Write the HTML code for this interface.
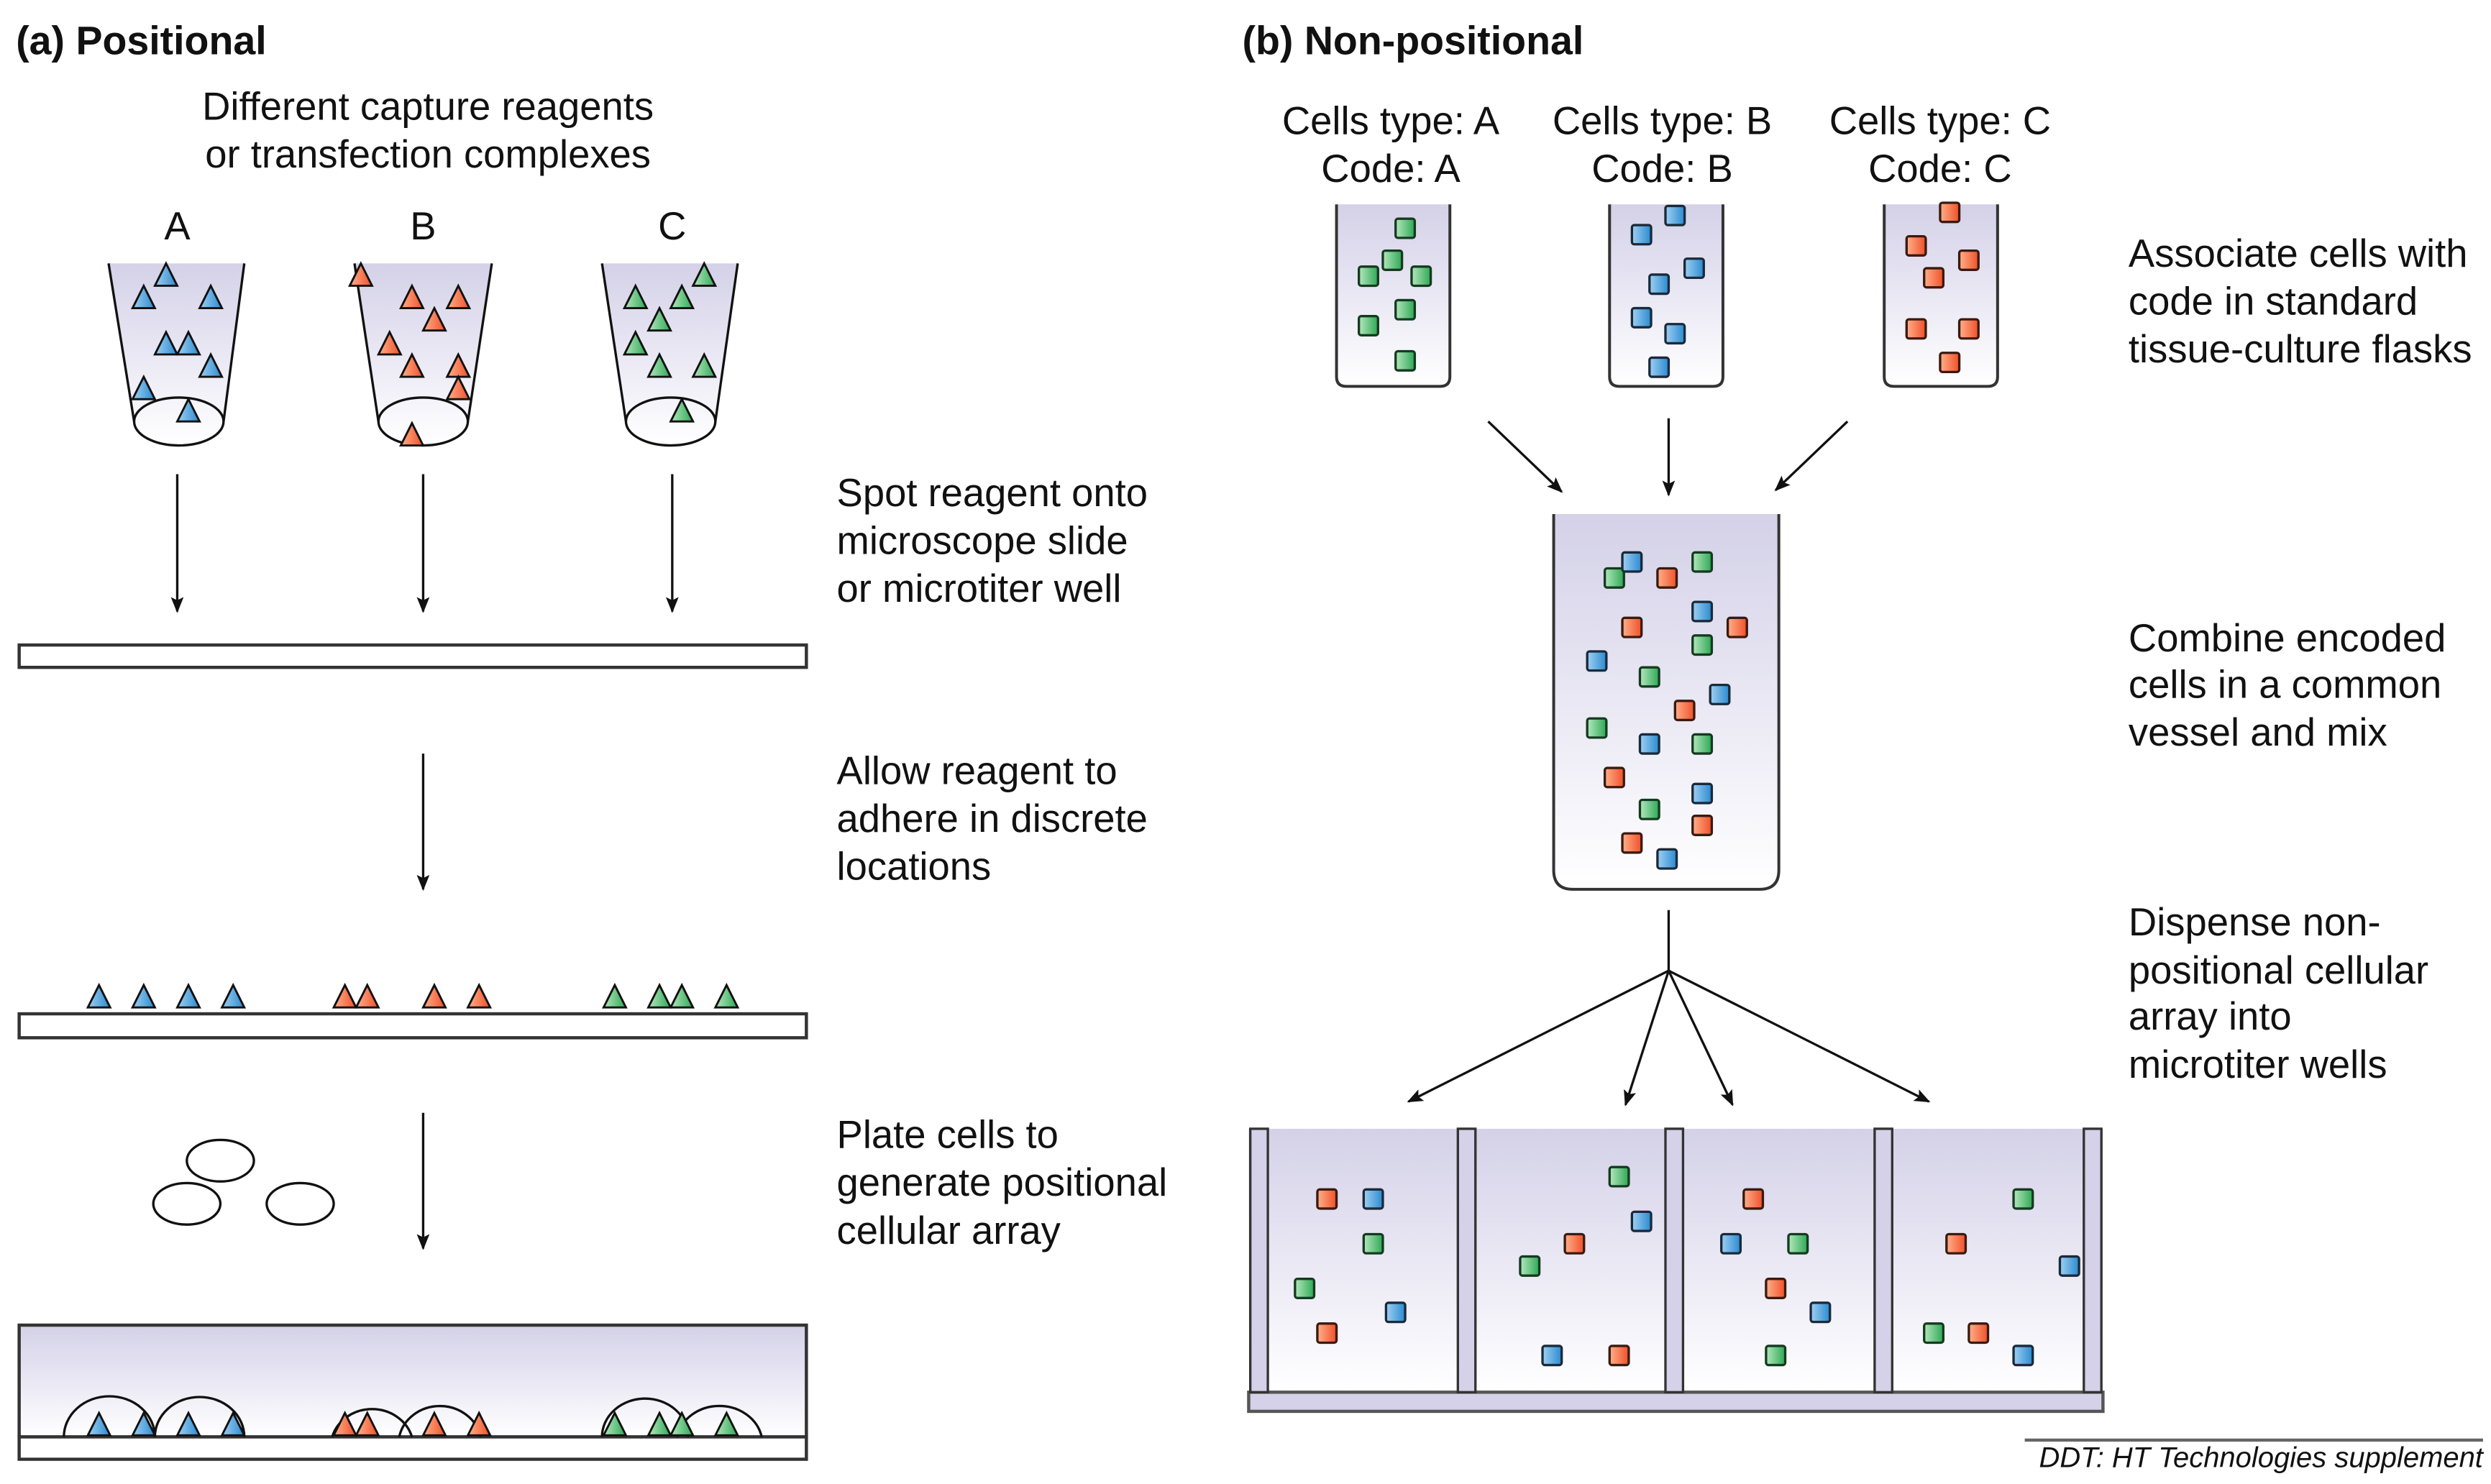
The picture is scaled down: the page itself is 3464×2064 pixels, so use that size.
<!DOCTYPE html>
<html><head><meta charset="utf-8"><style>
html,body{margin:0;padding:0;background:#fff}
svg{display:block}
text{font-family:"Liberation Sans",sans-serif;font-size:24.5px;fill:#111}
</style></head><body>
<svg width="3464" height="2064" viewBox="0 0 1560 929.5" preserveAspectRatio="none" xmlns="http://www.w3.org/2000/svg">
<defs>
<linearGradient id="lg" x1="0" y1="0" x2="0" y2="1"><stop offset="0" stop-color="#d4d1e8"/><stop offset="1" stop-color="#ffffff"/></linearGradient>
<linearGradient id="gb" x1="0" y1="0" x2="1" y2="0"><stop offset="0" stop-color="#9fd0f2"/><stop offset="1" stop-color="#2a8ad0"/></linearGradient>
<linearGradient id="go" x1="0" y1="0" x2="1" y2="0"><stop offset="0" stop-color="#ffb08a"/><stop offset="1" stop-color="#f0502a"/></linearGradient>
<linearGradient id="gg" x1="0" y1="0" x2="1" y2="0"><stop offset="0" stop-color="#b4e8bd"/><stop offset="1" stop-color="#2ea855"/></linearGradient>
<marker id="ah" markerWidth="10" markerHeight="10" refX="9" refY="5" orient="auto" markerUnits="userSpaceOnUse"><path d="M0,1 L10,5 L0,9 L2,5 Z" fill="#111"/></marker>
<rect id="sb" x="-6" y="-6" width="12" height="12" rx="1.5" fill="url(#gb)" stroke="#1a2a3a" stroke-width="1.5"/>
<rect id="so" x="-6" y="-6" width="12" height="12" rx="1.5" fill="url(#go)" stroke="#3a1a10" stroke-width="1.5"/>
<rect id="sg" x="-6" y="-6" width="12" height="12" rx="1.5" fill="url(#gg)" stroke="#153a20" stroke-width="1.5"/>
<path id="tb" d="M0,-7 L7,7 L-7,7 Z" fill="url(#gb)" stroke="#111" stroke-width="1.3"/>
<path id="to" d="M0,-7 L7,7 L-7,7 Z" fill="url(#go)" stroke="#111" stroke-width="1.3"/>
<path id="tg" d="M0,-7 L7,7 L-7,7 Z" fill="url(#gg)" stroke="#111" stroke-width="1.3"/>
</defs>

<!-- (a) -->
<text x="10" y="34" font-weight="bold" style="font-size:25px">(a) Positional</text>
<text x="268" y="75" text-anchor="middle">Different capture reagents</text>
<text x="268" y="105" text-anchor="middle">or transfection complexes</text>
<text x="111" y="150" text-anchor="middle">A</text>
<text x="265" y="150" text-anchor="middle">B</text>
<text x="421" y="150" text-anchor="middle">C</text>

<g stroke="#111" stroke-width="1.5" fill="url(#lg)">
<path d="M68,165 L153,165 L140,264 A28,15 0 0 1 84,264 Z" stroke="none"/>
<path d="M68,165 L84,264 M153,165 L140,264" fill="none"/>
<ellipse cx="112" cy="264" rx="28" ry="15" fill="none"/>
<path d="M222,165 L308,165 L293,264 A28,15 0 0 1 237,264 Z" stroke="none"/>
<path d="M222,165 L237,264 M308,165 L293,264" fill="none"/>
<ellipse cx="265" cy="264" rx="28" ry="15" fill="none"/>
<path d="M377,165 L462,165 L448,264 A28,15 0 0 1 392,264 Z" stroke="none"/>
<path d="M377,165 L392,264 M462,165 L448,264" fill="none"/>
<ellipse cx="420" cy="264" rx="28" ry="15" fill="none"/>
</g>
<g>
<use href="#tb" x="104" y="172"/><use href="#tb" x="90" y="186"/><use href="#tb" x="132" y="186"/><use href="#tb" x="104" y="215"/><use href="#tb" x="118" y="215"/><use href="#tb" x="132" y="229"/><use href="#tb" x="90" y="243"/><use href="#tb" x="118" y="257"/>
<use href="#to" x="226" y="172"/><use href="#to" x="258" y="186"/><use href="#to" x="287" y="186"/><use href="#to" x="272" y="200"/><use href="#to" x="244" y="215"/><use href="#to" x="258" y="229"/><use href="#to" x="287" y="229"/><use href="#to" x="287" y="243"/><use href="#to" x="258" y="272"/>
<use href="#tg" x="441" y="172"/><use href="#tg" x="398" y="186"/><use href="#tg" x="427" y="186"/><use href="#tg" x="413" y="200"/><use href="#tg" x="398" y="215"/><use href="#tg" x="413" y="229"/><use href="#tg" x="441" y="229"/><use href="#tg" x="427" y="257"/>
</g>

<g stroke="#111" stroke-width="1.5" marker-end="url(#ah)">
<line x1="111" y1="297" x2="111" y2="383"/>
<line x1="265" y1="297" x2="265" y2="383"/>
<line x1="421" y1="297" x2="421" y2="383"/>
<line x1="265" y1="472" x2="265" y2="557"/>
<line x1="265" y1="697" x2="265" y2="782"/>
</g>
<rect x="12" y="404" width="493" height="14" fill="#fff" stroke="#333" stroke-width="2"/>
<text x="524" y="317">Spot reagent onto</text>
<text x="524" y="347">microscope slide</text>
<text x="524" y="377">or microtiter well</text>
<text x="524" y="491">Allow reagent to</text>
<text x="524" y="521">adhere in discrete</text>
<text x="524" y="551">locations</text>

<rect x="12" y="635" width="493" height="15" fill="#fff" stroke="#333" stroke-width="2"/>
<g transform="translate(0,-10)">
<use href="#tb" x="62" y="634"/><use href="#tb" x="90" y="634"/><use href="#tb" x="118" y="634"/><use href="#tb" x="146" y="634"/>
<use href="#to" x="216" y="634"/><use href="#to" x="230" y="634"/><use href="#to" x="272" y="634"/><use href="#to" x="300" y="634"/>
<use href="#tg" x="385" y="634"/><use href="#tg" x="413" y="634"/><use href="#tg" x="427" y="634"/><use href="#tg" x="455" y="634"/>
</g>

<g fill="#fff" stroke="#111" stroke-width="1.5">
<ellipse cx="138" cy="727" rx="21" ry="13"/>
<ellipse cx="117" cy="754" rx="21" ry="13"/>
<ellipse cx="188" cy="754" rx="21" ry="13"/>
</g>
<text x="524" y="719">Plate cells to</text>
<text x="524" y="749">generate positional</text>
<text x="524" y="779">cellular array</text>

<rect x="12" y="830" width="493" height="70" fill="url(#lg)" stroke="#333" stroke-width="2"/>
<rect x="12" y="900" width="493" height="14" fill="#fff" stroke="#333" stroke-width="2"/>
<g fill="none" stroke="#111" stroke-width="1.5">
<path d="M40,900 A28,25 0 0 1 97,900"/><path d="M97,900 A28,25 0 0 1 153,900"/>
<path d="M208,900 A26,24 0 0 1 258,900"/><path d="M250,900 A26,24 0 0 1 301,900"/>
<path d="M377,900 A27,24 0 0 1 431,900"/><path d="M424,900 A27,24 0 0 1 477,900"/>
</g>
<g transform="translate(0,-8)">
<use href="#tb" x="62" y="900"/><use href="#tb" x="90" y="900"/><use href="#tb" x="118" y="900"/><use href="#tb" x="146" y="900"/>
<use href="#to" x="216" y="900"/><use href="#to" x="230" y="900"/><use href="#to" x="272" y="900"/><use href="#to" x="300" y="900"/>
<use href="#tg" x="385" y="900"/><use href="#tg" x="413" y="900"/><use href="#tg" x="427" y="900"/><use href="#tg" x="455" y="900"/>
</g>

<!-- (b) -->
<text x="778" y="34" font-weight="bold" style="font-size:25px">(b) Non-positional</text>
<text x="871" y="84" text-anchor="middle">Cells type: A</text>
<text x="871" y="114" text-anchor="middle">Code: A</text>
<text x="1041" y="84" text-anchor="middle">Cells type: B</text>
<text x="1041" y="114" text-anchor="middle">Code: B</text>
<text x="1215" y="84" text-anchor="middle">Cells type: C</text>
<text x="1215" y="114" text-anchor="middle">Code: C</text>

<g fill="url(#lg)" stroke="#333" stroke-width="1.8">
<path d="M837,128 L837,236 Q837,242 843,242 L902,242 Q908,242 908,236 L908,128"/>
<path d="M1008,128 L1008,236 Q1008,242 1014,242 L1073,242 Q1079,242 1079,236 L1079,128"/>
<path d="M1180,128 L1180,236 Q1180,242 1186,242 L1245,242 Q1251,242 1251,236 L1251,128"/>
<path d="M973,322 L973,545 Q973,557 985,557 L1102,557 Q1114,557 1114,545 L1114,322"/>
</g>
<g>
<use href="#sg" x="880" y="143"/><use href="#sg" x="872" y="163"/><use href="#sg" x="857" y="173"/><use href="#sg" x="890" y="173"/><use href="#sg" x="880" y="194"/><use href="#sg" x="857" y="204"/><use href="#sg" x="880" y="226"/>
<use href="#sb" x="1049" y="135"/><use href="#sb" x="1028" y="147"/><use href="#sb" x="1061" y="168"/><use href="#sb" x="1039" y="178"/><use href="#sb" x="1028" y="199"/><use href="#sb" x="1049" y="209"/><use href="#sb" x="1039" y="230"/>
<use href="#so" x="1221" y="133"/><use href="#so" x="1200" y="154"/><use href="#so" x="1233" y="163"/><use href="#so" x="1211" y="174"/><use href="#so" x="1200" y="206"/><use href="#so" x="1233" y="206"/><use href="#so" x="1221" y="227"/>
<use href="#sg" x="1011" y="362"/><use href="#sb" x="1022" y="352"/><use href="#so" x="1044" y="362"/><use href="#sg" x="1066" y="352"/><use href="#sb" x="1066" y="383"/><use href="#so" x="1022" y="393"/><use href="#so" x="1088" y="393"/><use href="#sg" x="1066" y="404"/><use href="#sb" x="1000" y="414"/><use href="#sg" x="1033" y="424"/><use href="#sb" x="1077" y="435"/><use href="#so" x="1055" y="445"/><use href="#sg" x="1000" y="456"/><use href="#sb" x="1033" y="466"/><use href="#sg" x="1066" y="466"/><use href="#so" x="1011" y="487"/><use href="#sb" x="1066" y="497"/><use href="#sg" x="1033" y="507"/><use href="#so" x="1066" y="517"/><use href="#so" x="1022" y="528"/><use href="#sb" x="1044" y="538"/>
</g>
<text x="1333" y="167">Associate cells with</text>
<text x="1333" y="197">code in standard</text>
<text x="1333" y="227">tissue-culture flasks</text>
<text x="1333" y="408">Combine encoded</text>
<text x="1333" y="437">cells in a common</text>
<text x="1333" y="467">vessel and mix</text>
<text x="1333" y="586">Dispense non-</text>
<text x="1333" y="616">positional cellular</text>
<text x="1333" y="645">array into</text>
<text x="1333" y="675">microtiter wells</text>

<g stroke="#111" stroke-width="1.5" marker-end="url(#ah)">
<line x1="932" y1="264" x2="978" y2="308"/>
<line x1="1045" y1="262" x2="1045" y2="310"/>
<line x1="1157" y1="264" x2="1112" y2="307"/>
<line x1="1045" y1="608" x2="882" y2="690"/>
<line x1="1045" y1="608" x2="1018" y2="692"/>
<line x1="1045" y1="608" x2="1085" y2="692"/>
<line x1="1045" y1="608" x2="1208" y2="690"/>
</g>
<line x1="1045" y1="570" x2="1045" y2="608" stroke="#111" stroke-width="1.5"/>

<rect x="782" y="707" width="535" height="165" fill="url(#lg)"/>
<rect x="782" y="872" width="535" height="12" fill="#d4d1e8" stroke="#555" stroke-width="2"/>
<g fill="#d4d1e8" stroke="#333" stroke-width="1.5">
<rect x="783" y="707" width="11" height="165"/>
<rect x="913" y="707" width="11" height="165"/>
<rect x="1043" y="707" width="11" height="165"/>
<rect x="1174" y="707" width="11" height="165"/>
<rect x="1305" y="707" width="11" height="165"/>
</g>
<g>
<use href="#so" x="831" y="751"/><use href="#sb" x="860" y="751"/><use href="#sg" x="860" y="779"/><use href="#sg" x="817" y="807"/><use href="#sb" x="874" y="822"/><use href="#so" x="831" y="835"/>
<use href="#sg" x="1014" y="737"/><use href="#sb" x="1028" y="765"/><use href="#so" x="986" y="779"/><use href="#sg" x="958" y="793"/><use href="#sb" x="972" y="849"/><use href="#so" x="1014" y="849"/>
<use href="#so" x="1098" y="751"/><use href="#sb" x="1084" y="779"/><use href="#sg" x="1126" y="779"/><use href="#so" x="1112" y="807"/><use href="#sb" x="1140" y="822"/><use href="#sg" x="1112" y="849"/>
<use href="#sg" x="1267" y="751"/><use href="#so" x="1225" y="779"/><use href="#sb" x="1296" y="793"/><use href="#sg" x="1211" y="835"/><use href="#so" x="1239" y="835"/><use href="#sb" x="1267" y="849"/>
</g>

<line x1="1268" y1="902" x2="1555" y2="902" stroke="#666" stroke-width="2"/>
<text x="1555" y="919" text-anchor="end" font-style="italic" style="font-size:18px">DDT: HT Technologies supplement</text>
</svg>
</body></html>
